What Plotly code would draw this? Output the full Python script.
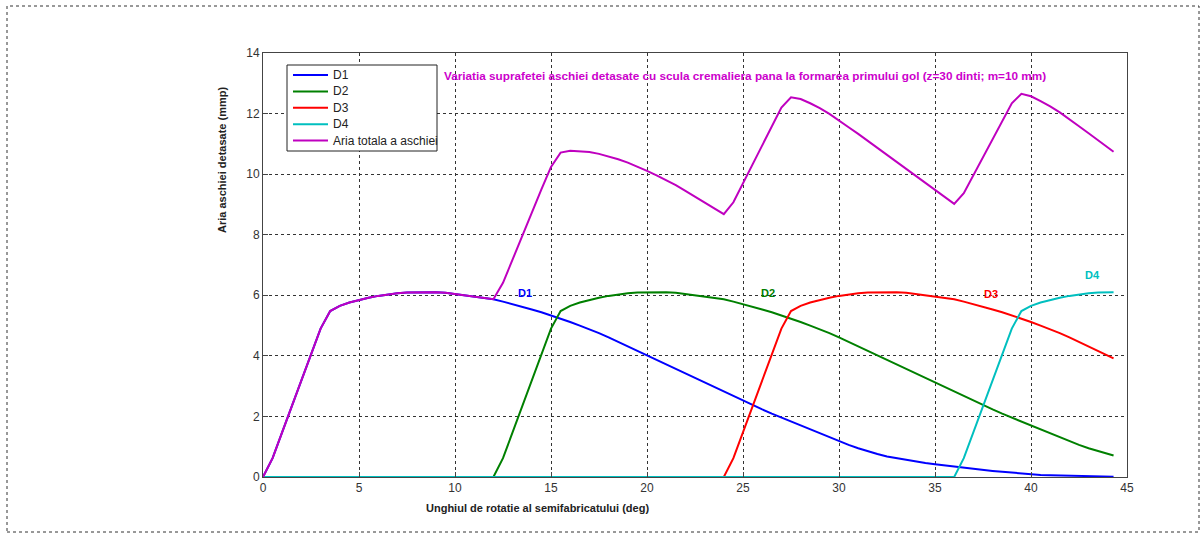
import plotly.graph_objects as go

# Rotation angle of the blank (deg)
ANGLE = [i * 0.5 for i in range(89)] + [44.3]

D1 = [0.00, 0.62, 1.48, 2.34, 3.20, 4.06, 4.90, 5.48, 5.65, 5.76,
      5.85, 5.92, 5.98, 6.03, 6.07, 6.09, 6.10, 6.10, 6.10, 6.08,
      6.04, 6.00, 5.95, 5.91, 5.87, 5.79, 5.71, 5.62, 5.53, 5.44,
      5.34, 5.23, 5.12, 5.00, 4.88, 4.75, 4.61, 4.46, 4.31, 4.16,
      4.01, 3.86, 3.71, 3.56, 3.41, 3.26, 3.11, 2.96, 2.81, 2.66,
      2.51, 2.37, 2.23, 2.09, 1.96, 1.83, 1.71, 1.58, 1.45, 1.32,
      1.19, 1.06, 0.95, 0.85, 0.76, 0.68, 0.62, 0.56, 0.51, 0.46,
      0.42, 0.38, 0.34, 0.30, 0.27, 0.23, 0.20, 0.17, 0.14, 0.11,
      0.09, 0.07, 0.06, 0.05, 0.04, 0.03, 0.02, 0.02, 0.01, 0.01]

D2 = [0.00, 0.00, 0.00, 0.00, 0.00, 0.00, 0.00, 0.00, 0.00, 0.00,
      0.00, 0.00, 0.00, 0.00, 0.00, 0.00, 0.00, 0.00, 0.00, 0.00,
      0.00, 0.00, 0.00, 0.00, 0.00, 0.62, 1.48, 2.34, 3.20, 4.06,
      4.90, 5.48, 5.65, 5.76, 5.85, 5.92, 5.98, 6.03, 6.07, 6.09,
      6.10, 6.10, 6.10, 6.08, 6.04, 6.00, 5.95, 5.91, 5.87, 5.79,
      5.71, 5.62, 5.53, 5.44, 5.34, 5.23, 5.12, 5.00, 4.88, 4.75,
      4.61, 4.46, 4.31, 4.16, 4.01, 3.86, 3.71, 3.56, 3.41, 3.26,
      3.11, 2.96, 2.81, 2.66, 2.51, 2.37, 2.23, 2.09, 1.96, 1.83,
      1.71, 1.58, 1.45, 1.32, 1.19, 1.06, 0.95, 0.85, 0.76, 0.71]

D3 = [0.00, 0.00, 0.00, 0.00, 0.00, 0.00, 0.00, 0.00, 0.00, 0.00,
      0.00, 0.00, 0.00, 0.00, 0.00, 0.00, 0.00, 0.00, 0.00, 0.00,
      0.00, 0.00, 0.00, 0.00, 0.00, 0.00, 0.00, 0.00, 0.00, 0.00,
      0.00, 0.00, 0.00, 0.00, 0.00, 0.00, 0.00, 0.00, 0.00, 0.00,
      0.00, 0.00, 0.00, 0.00, 0.00, 0.00, 0.00, 0.00, 0.00, 0.62,
      1.48, 2.34, 3.20, 4.06, 4.90, 5.48, 5.65, 5.76, 5.85, 5.92,
      5.98, 6.03, 6.07, 6.09, 6.10, 6.10, 6.10, 6.08, 6.04, 6.00,
      5.95, 5.91, 5.87, 5.79, 5.71, 5.62, 5.53, 5.44, 5.34, 5.23,
      5.12, 5.00, 4.88, 4.75, 4.61, 4.46, 4.31, 4.16, 4.01, 3.92]

D4 = [0.00, 0.00, 0.00, 0.00, 0.00, 0.00, 0.00, 0.00, 0.00, 0.00,
      0.00, 0.00, 0.00, 0.00, 0.00, 0.00, 0.00, 0.00, 0.00, 0.00,
      0.00, 0.00, 0.00, 0.00, 0.00, 0.00, 0.00, 0.00, 0.00, 0.00,
      0.00, 0.00, 0.00, 0.00, 0.00, 0.00, 0.00, 0.00, 0.00, 0.00,
      0.00, 0.00, 0.00, 0.00, 0.00, 0.00, 0.00, 0.00, 0.00, 0.00,
      0.00, 0.00, 0.00, 0.00, 0.00, 0.00, 0.00, 0.00, 0.00, 0.00,
      0.00, 0.00, 0.00, 0.00, 0.00, 0.00, 0.00, 0.00, 0.00, 0.00,
      0.00, 0.00, 0.00, 0.62, 1.48, 2.34, 3.20, 4.06, 4.90, 5.48,
      5.65, 5.76, 5.85, 5.92, 5.98, 6.03, 6.07, 6.09, 6.10, 6.10]

TOTAL = [0.00, 0.62, 1.48, 2.34, 3.20, 4.06, 4.90, 5.48, 5.65, 5.76,
         5.85, 5.92, 5.98, 6.03, 6.07, 6.09, 6.10, 6.10, 6.10, 6.08,
         6.04, 6.00, 5.95, 5.91, 5.87, 6.41, 7.19, 7.96, 8.73, 9.50,
         10.24, 10.71, 10.77, 10.76, 10.73, 10.67, 10.59, 10.49, 10.38, 10.25,
         10.11, 9.96, 9.81, 9.64, 9.45, 9.26, 9.06, 8.87, 8.68, 9.07,
         9.70, 10.33, 10.96, 11.59, 12.20, 12.54, 12.48, 12.34, 12.18, 11.99,
         11.78, 11.55, 11.33, 11.10, 10.87, 10.64, 10.43, 10.20, 9.96, 9.72,
         9.48, 9.25, 9.02, 9.37, 9.97, 10.56, 11.16, 11.76, 12.34, 12.65,
         12.57, 12.41, 12.24, 12.04, 11.82, 11.58, 11.35, 11.12, 10.88, 10.74]

SERIES_NAMES = ["D1", "D2", "D3", "D4", "Aria totala a aschiei"]
SERIES_COLORS = ["#0000FF", "#008000", "#FF0000", "#00BFBF", "#BF00BF"]
LABELS = ["D1", "D2", "D3", "D4"]
LABEL_X = [13.65, 26.3, 37.9, 43.2]
LABEL_Y = [6.07, 6.07, 6.03, 6.66]

X_TICKS = [0, 5, 10, 15, 20, 25, 30, 35, 40, 45]
Y_TICKS = [0, 2, 4, 6, 8, 10, 12, 14]

TITLE = "Variatia suprafetei aschiei detasate cu scula cremaliera pana la formarea primului gol (z=30 dinti; m=10 mm)"
XTITLE = "Unghiul de rotatie al semifabricatului (deg)"
YTITLE = "Aria aschiei detasate (mmp)"

FONT = "Liberation Sans, Arial, sans-serif"

# plot-area geometry in pixels (used only to place paper-anchored decorations)
PL, PR, PT, PB = 263, 1127, 53, 477
PW, PH = PR - PL, PB - PT


def px(xp):
    return (xp - PL) / PW


def py(yp):
    return (PB - yp) / PH


fig = go.Figure()
for name, ys, col in zip(SERIES_NAMES, [D1, D2, D3, D4, TOTAL], SERIES_COLORS):
    fig.add_trace(go.Scatter(x=ANGLE, y=ys, mode="lines", name=name,
                             line=dict(color=col, width=2), showlegend=False))

for txt, lx, ly, col in zip(LABELS, LABEL_X, LABEL_Y, SERIES_COLORS[:4]):
    fig.add_annotation(x=lx, y=ly, text="<b>" + txt + "</b>", showarrow=False,
                       font=dict(family=FONT, size=11, color=col),
                       xanchor="center", yanchor="middle")

fig.add_annotation(x=9.3, y=13.25, text="<b>" + TITLE + "</b>", showarrow=False,
                   xanchor="left", yanchor="middle",
                   font=dict(family=FONT, size=11.75, color="#CC00CC"))

# axis titles placed like the original
fig.add_annotation(xref="paper", yref="paper", x=px(537), y=py(508),
                   text="<b>" + XTITLE + "</b>", showarrow=False,
                   xanchor="center", yanchor="middle",
                   font=dict(family=FONT, size=11, color="#222222"))
fig.add_annotation(xref="paper", yref="paper", x=px(222), y=py(160),
                   text="<b>" + YTITLE + "</b>", showarrow=False, textangle=-90,
                   xanchor="center", yanchor="middle",
                   font=dict(family=FONT, size=11, color="#222222"))

# dotted figure border
fig.add_shape(type="rect", xref="paper", yref="paper",
              x0=px(7), x1=px(1199), y0=py(532), y1=py(6),
              line=dict(color="#333333", width=1, dash="dot"), layer="below")

# legend box (drawn manually to reproduce the compact row spacing)
fig.add_shape(type="rect", xref="paper", yref="paper",
              x0=px(287), x1=px(437), y0=py(151), y1=py(65),
              line=dict(color="#222222", width=1), fillcolor="white", layer="above")
for i, (name, col) in enumerate(zip(SERIES_NAMES, SERIES_COLORS)):
    yy = 75 + 16.4 * i
    fig.add_shape(type="line", xref="paper", yref="paper",
                  x0=px(293), x1=px(328), y0=py(yy), y1=py(yy),
                  line=dict(color=col, width=2), layer="above")
    fig.add_annotation(xref="paper", yref="paper", x=px(331), y=py(yy),
                       text=name, showarrow=False, xanchor="left", yanchor="middle",
                       font=dict(family=FONT, size=12, color="#222222"))

axis_common = dict(showline=True, mirror=True, linecolor="#444444", linewidth=1,
                   ticks="inside", ticklen=5, tickcolor="#444444",
                   showgrid=True, gridcolor="#333333", gridwidth=1, griddash="dot",
                   zeroline=False,
                   tickfont=dict(family=FONT, size=12, color="#333333"))

fig.update_xaxes(range=[0, 45], tickvals=X_TICKS, **axis_common)
fig.update_yaxes(range=[0, 14], tickvals=Y_TICKS, **axis_common)

fig.update_layout(
    width=1203, height=537,
    margin=dict(l=PL, r=1203 - PR, t=PT, b=537 - PB),
    paper_bgcolor="white", plot_bgcolor="white",
    font=dict(family=FONT, size=12, color="#222222"),
    showlegend=False,
)

fig.write_html("out.html")
